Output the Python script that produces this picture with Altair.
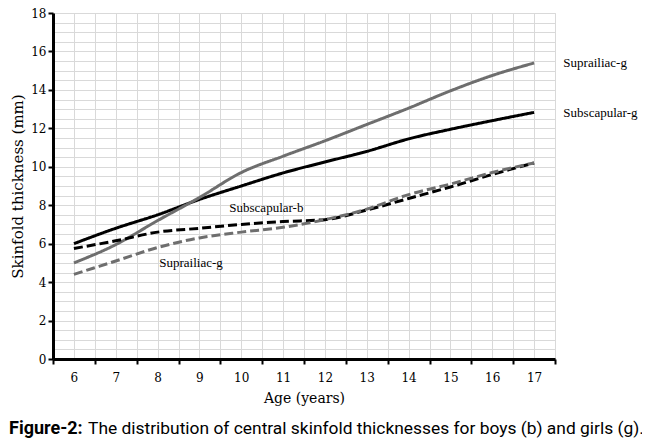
import altair as alt
import pandas as pd

ages = [6, 7, 8, 9, 10, 11, 12, 13, 14, 15, 16, 17]
subscapular_g = [6.0, 6.8, 7.5, 8.3, 9.0, 9.68, 10.25, 10.8, 11.45, 11.95, 12.4, 12.83]
suprailiac_g = [5.0, 5.95, 7.2, 8.4, 9.7, 10.55, 11.35, 12.2, 13.05, 13.95, 14.75, 15.4]
subscapular_b = [5.75, 6.15, 6.6, 6.8, 7.0, 7.15, 7.25, 7.75, 8.35, 8.95, 9.6, 10.2]
suprailiac_b = [4.4, 5.1, 5.8, 6.3, 6.6, 6.85, 7.25, 7.8, 8.55, 9.1, 9.7, 10.2]

series_names = ["Subscapular-g", "Suprailiac-g", "Subscapular-b", "Suprailiac-b"]
series_values = [subscapular_g, suprailiac_g, subscapular_b, suprailiac_b]

label_texts = ["Suprailiac-g", "Subscapular-g", "Subscapular-b", "Suprailiac-g"]
label_x = [17.7, 17.7, 10.6, 8.8]
label_y = [15.4, 12.8, 7.86, 5.02]
label_align = ["left", "left", "center", "center"]

x_grid_values = [5.5 + 0.5 * i for i in range(25)]
y_grid_values = [0.5 * i for i in range(37)]

rows = []
for name, vals in zip(series_names, series_values):
    for a, v in zip(ages, vals):
        rows.append({"age": a, "value": v, "series": name})
df = pd.DataFrame(rows)

SERIF = "DejaVu Serif"
ANN = "Liberation Serif"

x_enc = alt.X(
    "age:Q",
    scale=alt.Scale(domain=[5.5, 17.5], nice=False, zero=False),
    axis=alt.Axis(
        values=x_grid_values,
        tickCount=200,
        title="Age (years)",
        labelExpr="datum.value % 1 == 0 ? format(datum.value, '.0f') : ''",
        labelOverlap=False,
        labelFont=SERIF,
        labelFontSize=12,
        labelColor="#000",
        labelPadding=8,
        tickSize=5,
        tickWidth=2,
        tickColor="#000",
        tickOpacity={"condition": {"test": "datum.value % 1 == 0", "value": 0}, "value": 1},
        domainWidth=3,
        domainColor="#000",
        grid=True,
        gridColor="#d9d9d9",
        gridWidth=1,
        titleFont=SERIF,
        titleFontSize=14,
        titleFontWeight="normal",
        titleColor="#000",
        titlePadding=8,
    ),
)

y_enc = alt.Y(
    "value:Q",
    scale=alt.Scale(domain=[0, 18], nice=False),
    axis=alt.Axis(
        values=y_grid_values,
        tickCount=200,
        title="Skinfold thickness (mm)",
        labelExpr="datum.value % 2 == 0 ? format(datum.value, '.0f') : ''",
        labelOverlap=False,
        labelFont=SERIF,
        labelFontSize=12,
        labelColor="#000",
        labelPadding=2,
        tickSize=5,
        tickWidth=2,
        tickColor="#000",
        tickOpacity={"condition": {"test": "datum.value % 2 == 0", "value": 1}, "value": 0},
        domainWidth=3,
        domainColor="#000",
        grid=True,
        gridColor="#d9d9d9",
        gridWidth=1,
        titleFont=SERIF,
        titleFontSize=15,
        titleFontWeight="normal",
        titleColor="#000",
        titlePadding=5,
    ),
)

lines = alt.Chart(df).mark_line(strokeWidth=3, interpolate="monotone").encode(
    x=x_enc,
    y=y_enc,
    color=alt.Color(
        "series:N",
        scale=alt.Scale(domain=series_names, range=["#000000", "#6e6e6e", "#000000", "#6e6e6e"]),
        legend=None,
    ),
    strokeDash=alt.StrokeDash(
        "series:N",
        scale=alt.Scale(domain=series_names, range=[[1, 0], [1, 0], [9, 4], [9, 4]]),
        legend=None,
    ),
    detail="series:N",
)

labels_df = pd.DataFrame({"text": label_texts, "x": label_x, "y": label_y, "align": label_align})
labels_left = alt.Chart(labels_df[labels_df["align"] == "left"]).mark_text(
    font=ANN, fontSize=13, align="left", baseline="middle", color="#000"
).encode(x="x:Q", y="y:Q", text="text:N")
labels_center = alt.Chart(labels_df[labels_df["align"] == "center"]).mark_text(
    font=ANN, fontSize=13, align="center", baseline="middle", color="#000"
).encode(x="x:Q", y="y:Q", text="text:N")

cap_font = "Roboto"
cap1 = alt.Chart(pd.DataFrame({"t": ["Figure-2:"]})).mark_text(
    font=cap_font, fontSize=18, fontWeight="bold", align="left", baseline="alphabetic", color="#000"
).encode(x=alt.value(-44), y=alt.value(421), text="t:N")
cap2 = alt.Chart(pd.DataFrame({"t": ["The distribution of central skinfold thicknesses for boys (b) and girls (g)."]})).mark_text(
    font=cap_font, fontSize=17.4, align="left", baseline="alphabetic", color="#000"
).encode(x=alt.value(35), y=alt.value(421), text="t:N")

chart = alt.layer(lines, labels_left, labels_center, cap1, cap2).properties(
    width=502,
    height=346,
    autosize=alt.AutoSizeParams(type="none"),
    padding={"left": 45, "top": 5, "right": 87, "bottom": 84},
).configure_view(stroke=None).configure(background="white")

chart.save("out.html", embed_options={"renderer": "svg", "actions": False})
